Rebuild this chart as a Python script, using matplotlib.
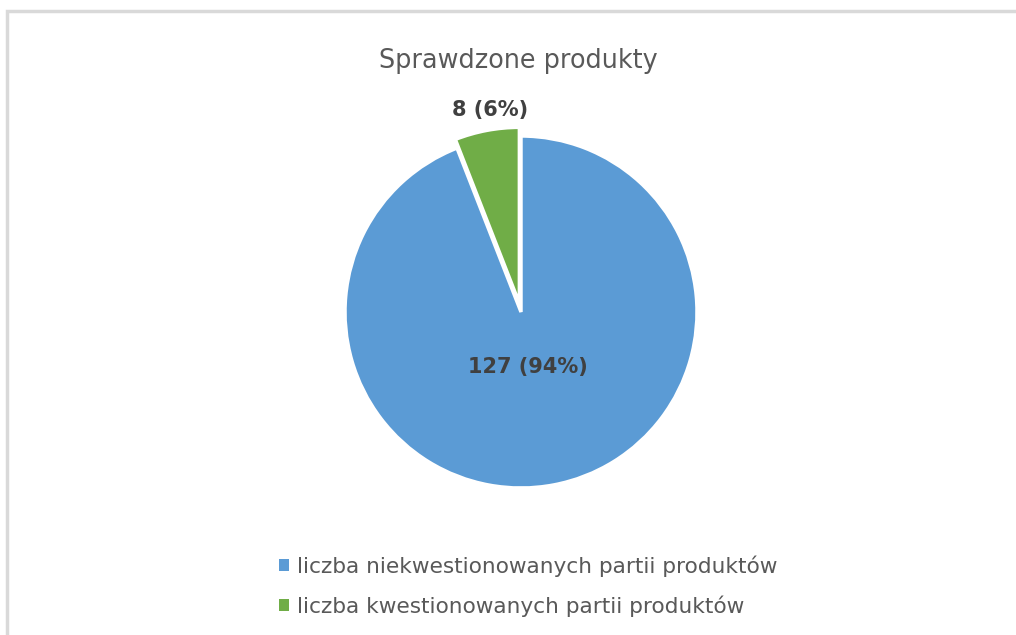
import matplotlib.pyplot as plt
from matplotlib.patches import Rectangle

labels = ["liczba niekwestionowanych partii produktów",
          "liczba kwestionowanych partii produktów"]
values = [127, 8]
colors = ["#5B9BD5", "#70AD47"]
explode = [0, 0.05]

W, H = 1016, 635
fig = plt.figure(figsize=(W / 100, H / 100), dpi=100)

# light gray chart frame (cropped on right/bottom)
fig.patches.append(Rectangle((7 / W, -0.1), 1.2, (H - 11) / H + 0.1,
                             transform=fig.transFigure, fill=False,
                             edgecolor="#D9D9D9", linewidth=2.5))

cx, cy, r = 521, 312, 176
half = 220
ax = fig.add_axes([(cx - half) / W, (H - cy - half) / H, 2 * half / W, 2 * half / H])
total = sum(values)
wedges, _ = ax.pie(values, colors=colors, explode=explode, startangle=90,
                   counterclock=False, radius=1,
                   wedgeprops=dict(edgecolor="white", linewidth=2.5))
lim = half / r
ax.set_xlim(-lim, lim)
ax.set_ylim(-lim, lim)
ax.set_aspect("equal")
ax.axis("off")

txt = [f"{v} ({round(100 * v / total)}%)" for v in values]
ax.text((528 - cx) / r, (cy - 367) / r, txt[0], ha="center", va="center",
        fontsize=15, fontweight="bold", color="#404040")
ax.text((490 - cx) / r, (cy - 110) / r, txt[1], ha="center", va="center",
        fontsize=15, fontweight="bold", color="#404040")

fig.text(518 / W, 1 - 61 / H, "Sprawdzone produkty", ha="center", va="center",
         fontsize=18.4, color="#595959")

leg = fig.legend(wedges, labels, loc="center", bbox_to_anchor=(528 / W, 1 - 586 / H),
                 frameon=False, fontsize=15.6, labelcolor="#595959",
                 handlelength=0.5, handleheight=0.5, handletextpad=0.35,
                 labelspacing=0.85)
for h in leg.legend_handles:
    h.set_edgecolor("none")

fig.savefig("out.png", dpi=100)
